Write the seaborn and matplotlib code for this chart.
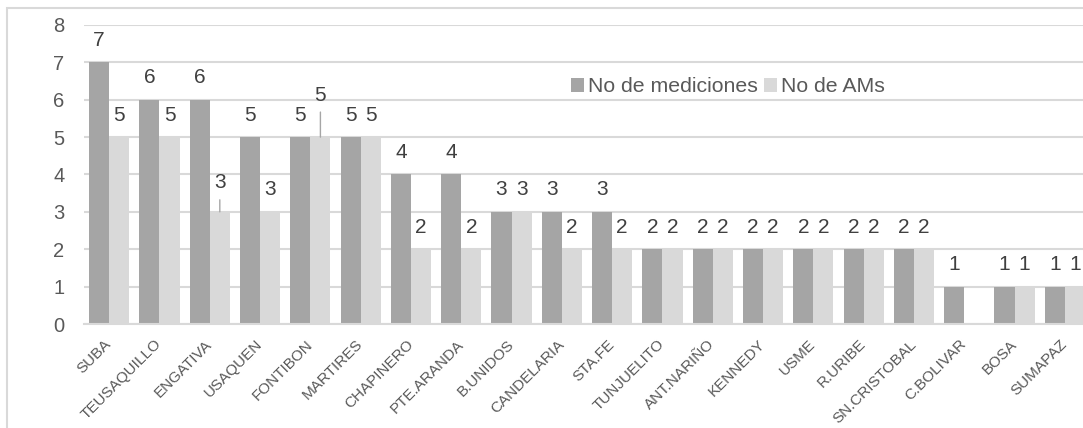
import pandas as pd
import matplotlib.pyplot as plt
import matplotlib.patches as patches
import seaborn as sns

# Data
zonas = ["SUBA", "TEUSAQUILLO", "ENGATIVA", "USAQUEN", "FONTIBON", "MARTIRES",
         "CHAPINERO", "PTE.ARANDA", "B.UNIDOS", "CANDELARIA", "STA.FE",
         "TUNJUELITO", "ANT.NARIÑO", "KENNEDY", "USME", "R.URIBE",
         "SN.CRISTOBAL", "C.BOLIVAR", "BOSA", "SUMAPAZ"]
mediciones = [7, 6, 6, 5, 5, 5, 4, 4, 3, 3, 3, 2, 2, 2, 2, 2, 2, 1, 1, 1]
ams = [5, 5, 3, 3, 5, 5, 2, 2, 3, 2, 2, 2, 2, 2, 2, 2, 2, 0, 1, 1]
series = ["No de mediciones", "No de AMs"]

df = pd.DataFrame({"zona": zonas, series[0]: mediciones, series[1]: ams})
df = df.melt(id_vars="zona", var_name="serie", value_name="valor")

sns.set_theme(style="white")
plt.rcParams["font.family"] = ["Liberation Sans", "DejaVu Sans"]

fig = plt.figure(figsize=(10.83, 4.28), dpi=100)
ax = fig.add_axes([84 / 1083, 104 / 428, 1006 / 1083, 299 / 428])

sns.barplot(data=df, x="zona", y="valor", hue="serie", order=zonas,
            hue_order=series, palette=["#A5A5A5", "#D9D9D9"], saturation=1,
            width=0.8, ax=ax, errorbar=None, linewidth=0)

ax.set_ylim(0, 8)
ax.set_xlim(-0.5, len(zonas) - 0.5)
ax.set_yticks(range(0, 9))
ax.yaxis.grid(True, color="#D9D9D9", lw=1.5)
ax.set_axisbelow(True)
for s in ["left", "right", "top"]:
    ax.spines[s].set_visible(False)
ax.spines["bottom"].set_color("#D9D9D9")
ax.spines["bottom"].set_linewidth(1.5)
ax.set_xlabel("")
ax.set_ylabel("")

ax.tick_params(axis="y", length=0, pad=14, labelsize=14.5, labelcolor="#595959")
ax.tick_params(axis="x", which="major", length=0, pad=13, labelsize=11,
               labelcolor="#595959")
ax.set_xticks([i - 0.5 for i in range(len(zonas) + 1)], minor=True)
ax.tick_params(axis="x", which="minor", length=5, color="#D9D9D9", width=1.5)
plt.setp(ax.get_xticklabels(), rotation=45, ha="right", va="center",
         rotation_mode="anchor")

# data labels, two of them moved up with a leader line
raised = {(1, "ENGATIVA"): 29, (1, "FONTIBON"): 42}
for k, cont in enumerate(ax.containers):
    for bar, zona in zip(cont, zonas):
        h = bar.get_height()
        if h == 0:
            continue
        xc = bar.get_x() + bar.get_width() / 2
        off = raised.get((k, zona), 22)
        arrow = None
        if (k, zona) in raised:
            arrow = dict(arrowstyle="-", color="#A6A6A6", lw=1, shrinkA=3, shrinkB=0)
        ax.annotate(f"{int(h)}", xy=(xc, h), xytext=(0, off),
                    textcoords="offset pixels", ha="center", va="center",
                    fontsize=15, color="#404040", arrowprops=arrow)

leg = ax.legend(loc="center", bbox_to_anchor=(0.64, 0.793), ncol=2, frameon=False,
                fontsize=15.3, handlelength=0.6, handleheight=0.6,
                handletextpad=0.2, columnspacing=0.3, borderpad=0)
for t in leg.get_texts():
    t.set_color("#595959")

# chart border (only the top and left are inside the picture)
fig.patches.append(patches.Rectangle((7 / 1083, -0.1), 1.2, (428 - 8) / 428 + 0.1,
                                     transform=fig.transFigure, fill=False,
                                     edgecolor="#D9D9D9", lw=1.5))

plt.savefig("out.png", dpi=100)
